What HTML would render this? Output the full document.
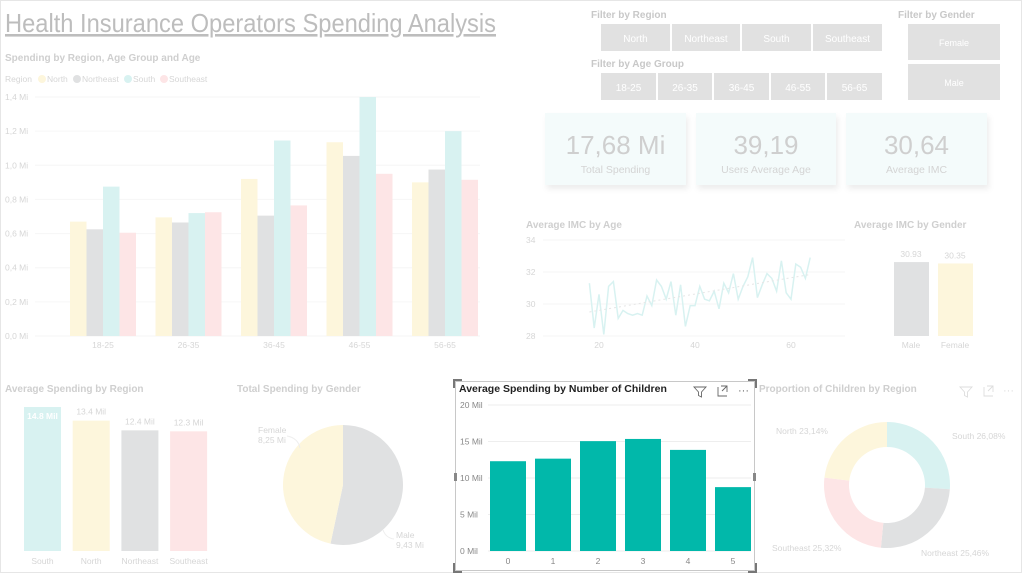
<!DOCTYPE html>
<html><head><meta charset="utf-8">
<style>
body{margin:0;background:#fff;font-family:"Liberation Sans",sans-serif;}
svg{display:block}
text{font-family:"Liberation Sans",sans-serif}
</style></head>
<body>
<svg id="s" width="1022" height="573" viewBox="0 0 1022 573">
<rect x="0.5" y="0.5" width="1021" height="572" fill="#fff" stroke="#e6e6e6"/>
<text x="5" y="32" font-size="26" fill="#bdbdbd" text-decoration="underline" textLength="491" lengthAdjust="spacingAndGlyphs">Health Insurance Operators Spending Analysis</text>
<g id="filters"></g>
<g id="kpis"></g>
<g id="c1"></g><g id="c2"></g><g id="c3"></g><g id="c4"></g><g id="c5"></g><g id="c6"></g><g id="c7"></g>
</svg>
<script>
const NS="http://www.w3.org/2000/svg";
function mk(p,tag,at,txt){const e=document.createElementNS(NS,tag);for(const k in at)e.setAttribute(k,at[k]);if(txt!=null)e.textContent=txt;p.appendChild(e);return e;}
const G=id=>document.getElementById(id);
const LT="#d6d6d6";
const COL={North:"#fdf6dc",Northeast:"#e0e1e2",South:"#d8f2f1",Southeast:"#fde5e6"};

// ---- data arrays ----
const regions=["North","Northeast","South","Southeast"];
const ageGroups=["18-25","26-35","36-45","46-55","56-65"];
const northVals=[0.67,0.695,0.92,1.135,0.9];
const northeastVals=[0.625,0.665,0.705,1.055,0.975];
const southVals=[0.875,0.72,1.145,1.4,1.2];
const southeastVals=[0.605,0.725,0.765,0.95,0.915];
const spendTicks=["0,0 Mi","0,2 Mi","0,4 Mi","0,6 Mi","0,8 Mi","1,0 Mi","1,2 Mi","1,4 Mi"];
const ages=[18,19,20,21,22,23,24,25,26,27,28,29,30,31,32,33,34,35,36,37,38,39,40,41,42,43,44,45,46,47,48,49,50,51,52,53,54,55,56,57,58,59,60,61,62,63,64];
const imcVals=[31.3,28.5,30.6,28.1,31.1,31.4,29.1,29.6,29.4,29.3,29.4,29.3,30.5,29.9,31.5,31.1,30.3,31.4,29.3,31.2,28.6,29.9,29.9,31.1,30.3,30.2,30.8,29.7,31.3,30.7,31.9,30.3,31.1,31.7,32.9,30.4,31.2,31.9,31.6,30.8,32.7,30.7,30.3,32.5,32.3,31.6,32.9];
const imcTicks=[28,30,32,34];
const ageTicks=[20,40,60];
const genders=["Male","Female"];
const genderImc=[30.93,30.35];
const regionOrder=["South","North","Northeast","Southeast"];
const regionAvg=[14.8,13.4,12.4,12.3];
const pieLabels=["Male","Female"];
const pieVals=[9.43,8.25];
const children=["0","1","2","3","4","5"];
const childSpend=[12.3,12.65,15.05,15.35,13.85,8.75];
const childTicks=[0,5,10,15,20];
const donutLabels=["South","Northeast","Southeast","North"];
const donutVals=[26.08,25.46,25.32,23.14];

// ---- filters ----
(function(){
const g=G("filters");
mk(g,"text",{x:591,y:18,"font-size":10,fill:"#c8c8c8","font-weight":"bold",},"Filter by Region");
mk(g,"text",{x:591,y:67,"font-size":10,fill:"#c8c8c8","font-weight":"bold",},"Filter by Age Group");
mk(g,"text",{x:898,y:18,"font-size":10,fill:"#c8c8c8","font-weight":"bold",},"Filter by Gender");
const rb=[[601,670,"North"],[672,740,"Northeast"],[742,811,"South"],[813,882,"Southeast"]];
rb.forEach(b=>{const r=mk(g,"rect",{x:b[0],y:24,width:b[1]-b[0],height:27,fill:"#e1e1e1"});

mk(g,"text",{x:(b[0]+b[1])/2,y:42,"font-size":10,fill:"#fff","text-anchor":"middle"},b[2]);});
const ab=[[601,656],[658,712],[714,769],[771,825],[827,882]];
ab.forEach((b,i)=>{const r=mk(g,"rect",{x:b[0],y:73,width:b[1]-b[0],height:27,fill:"#e1e1e1"});

mk(g,"text",{x:(b[0]+b[1])/2,y:91,"font-size":10,fill:"#fff","text-anchor":"middle"},ageGroups[i]);});
[[24,60,"Female"],[64,100,"Male"]].forEach(b=>{const r=mk(g,"rect",{x:908,y:b[0],width:92,height:b[1]-b[0],fill:"#e1e1e1"});

mk(g,"text",{x:954,y:(b[0]+b[1])/2+4,"font-size":9,fill:"#fff","text-anchor":"middle"},b[2]);});
})();

// ---- KPIs ----
(function(){
const g=G("kpis");
mk(g,"defs",{}).innerHTML='<filter id="sh" x="-10%" y="-10%" width="130%" height="140%"><feDropShadow dx="2" dy="4" stdDeviation="3" flood-color="#000" flood-opacity="0.07"/></filter>';
[[545,686,"17,68 Mi","Total Spending"],[696,836,"39,19","Users Average Age"],[846,987,"30,64","Average IMC"]].forEach(k=>{
const r=mk(g,"rect",{x:k[0],y:113,width:k[1]-k[0],height:72,fill:"#f4fbfb",filter:"url(#sh)"});

mk(g,"text",{x:(k[0]+k[1])/2,y:154,"font-size":26,fill:"#cfcfcf","text-anchor":"middle"},k[2]);
mk(g,"text",{x:(k[0]+k[1])/2,y:173,"font-size":10.5,fill:"#d4d4d4","text-anchor":"middle"},k[3]);});
})();

// ---- Chart 1: grouped bars ----
(function(){
const g=G("c1");
mk(g,"text",{x:5,y:61,"font-size":10,"font-weight":"bold",fill:"#cfcfcf",},"Spending by Region, Age Group and Age");
mk(g,"text",{x:5,y:82,"font-size":8.5,fill:LT},"Region");
const lxs=[38,73,124,160];
regions.forEach((r,i)=>{const lx=lxs[i];const c=mk(g,"circle",{cx:lx+4,cy:79,r:4,fill:COL[r]});
mk(g,"text",{x:lx+9,y:82,"font-size":8.5,fill:LT},r);});
const y=v=>336-v/1.4*239, x0=70, gs=85.5, bw=16.5;
spendTicks.forEach((t,i)=>{const yy=y(i*0.2);mk(g,"line",{x1:35,x2:480,y1:yy,y2:yy,stroke:"#f6f6f6"});mk(g,"text",{x:5,y:yy+3,"font-size":8.5,fill:LT},t);});
const series=[northVals,northeastVals,southVals,southeastVals];
ageGroups.forEach((a,i)=>{series.forEach((s,j)=>{const b=mk(g,"rect",{x:x0+i*gs+j*bw,y:y(s[i]),width:bw,height:336-y(s[i]),fill:COL[regions[j]]});
});
mk(g,"text",{x:x0+i*gs+2*bw,y:348,"font-size":8.5,fill:LT,"text-anchor":"middle"},a);});
})();

// ---- Chart 2: line ----
(function(){
const g=G("c2");
mk(g,"text",{x:526,y:228,"font-size":10,"font-weight":"bold",fill:"#cfcfcf",},"Average IMC by Age");
const x=a=>599+(a-20)*4.8, y=v=>336-(v-28)*16;
imcTicks.forEach(t=>{mk(g,"line",{x1:543,x2:845,y1:y(t),y2:y(t),stroke:"#f6f6f6"});mk(g,"text",{x:526,y:y(t)+3,"font-size":8.5,fill:LT},t);});
ageTicks.forEach(t=>mk(g,"text",{x:x(t),y:348,"font-size":8.5,fill:LT,"text-anchor":"middle"},t));
const l=mk(g,"polyline",{points:ages.map((a,i)=>x(a)+","+y(imcVals[i])).join(" "),fill:"none",stroke:"#d8f2f1","stroke-width":1.5});

const n=ages.length;let sx=0,sy=0,sxx=0,sxy=0;ages.forEach((a,i)=>{sx+=a;sy+=imcVals[i];sxx+=a*a;sxy+=a*imcVals[i];});
const m=(n*sxy-sx*sy)/(n*sxx-sx*sx),b=(sy-m*sx)/n;
mk(g,"line",{x1:x(ages[0]),y1:y(m*ages[0]+b),x2:x(ages[n-1]),y2:y(m*ages[n-1]+b),stroke:"#e6e6e6","stroke-dasharray":"2,3"});
})();

// ---- Chart 3: gender IMC ----
(function(){
const g=G("c3");
mk(g,"text",{x:854,y:228,"font-size":10,"font-weight":"bold",fill:"#cfcfcf",},"Average IMC by Gender");
const y=v=>336-v*2.39;
genders.forEach((gn,i)=>{const xx=894+i*44;const b=mk(g,"rect",{x:xx,y:y(genderImc[i]),width:35,height:336-y(genderImc[i]),fill:i?COL.North:COL.Northeast});

mk(g,"text",{x:xx+17,y:y(genderImc[i])-5,"font-size":8.5,fill:LT,"text-anchor":"middle"},genderImc[i].toFixed(2));
mk(g,"text",{x:xx+17,y:348,"font-size":8.5,fill:LT,"text-anchor":"middle"},gn);});
})();

// ---- Chart 4: avg by region ----
(function(){
const g=G("c4");
mk(g,"text",{x:5,y:392,"font-size":10,"font-weight":"bold",fill:"#cfcfcf",},"Average Spending by Region");
const y=v=>551-v*9.73;
regionOrder.forEach((r,i)=>{const xx=24+i*48.7;const b=mk(g,"rect",{x:xx,y:y(regionAvg[i]),width:37,height:551-y(regionAvg[i]),fill:COL[r]});

const inside=i===0;
mk(g,"text",{x:xx+18.5,y:inside?y(regionAvg[i])+12:y(regionAvg[i])-6,"font-size":8.5,fill:inside?"#fff":LT,"font-weight":inside?"bold":"normal","text-anchor":"middle"},regionAvg[i].toFixed(1)+" Mil");
mk(g,"text",{x:xx+18.5,y:564,"font-size":8.5,fill:LT,"text-anchor":"middle"},r);});
})();

// ---- Chart 5: pie ----
(function(){
const g=G("c5");
mk(g,"text",{x:237,y:392,"font-size":10,"font-weight":"bold",fill:"#cfcfcf",},"Total Spending by Gender");
const cx=343,cy=485,r=60,tot=pieVals.reduce((a,b)=>a+b,0);let a0=-Math.PI/2;
const cols=["#e0e1e2","#fdf6dc"];
pieVals.forEach((v,i)=>{const a1=a0+v/tot*2*Math.PI;const lg=(a1-a0)>Math.PI?1:0;
const p=mk(g,"path",{d:`M${cx},${cy}L${cx+r*Math.cos(a0)},${cy+r*Math.sin(a0)}A${r},${r} 0 ${lg} 1 ${cx+r*Math.cos(a1)},${cy+r*Math.sin(a1)}Z`,fill:cols[i]});
a0=a1;});
mk(g,"text",{x:258,y:433,"font-size":8.5,fill:LT},"Female");mk(g,"text",{x:258,y:443,"font-size":8.5,fill:LT},pieVals[1].toFixed(2).replace(".",",")+" Mi");
mk(g,"text",{x:396,y:538,"font-size":8.5,fill:LT},"Male");mk(g,"text",{x:396,y:548,"font-size":8.5,fill:LT},pieVals[0].toFixed(2).replace(".",",")+" Mi");
mk(g,"path",{d:"M287,436 Q298,438 300,448",fill:"none",stroke:"#eee"});mk(g,"path",{d:"M383,530 Q386,538 394,539",fill:"none",stroke:"#eee"});
})();

// ---- Chart 6: selected children chart ----
(function(){
const g=G("c6");
const box=mk(g,"rect",{x:455.5,y:381.5,width:299,height:189,fill:"#fff",stroke:"#c8c8c8"});

mk(g,"path",{d:"M454,388V380H462M748,380H756V388M454,563V572H462M748,572H756V563",fill:"none",stroke:"#777","stroke-width":2});
mk(g,"rect",{x:454,y:473,width:3,height:8,fill:"#888"});mk(g,"rect",{x:753,y:473,width:3,height:8,fill:"#888"});
mk(g,"text",{x:459,y:392,"font-size":10.5,"font-weight":"bold",fill:"#222",},"Average Spending by Number of Children");
const ic=mk(g,"path",{d:"M694,387h12l-4.5,5v5l-3,-1.5v-3.5z",fill:"none",stroke:"#666","stroke-width":0.9});
const fo=mk(g,"path",{d:"M718,387v9h9M721,386h6v6M727,386l-5,5",fill:"none",stroke:"#666","stroke-width":0.9});
const mo=mk(g,"text",{x:738,y:394,"font-size":11,fill:"#666"},"···");
const y=v=>551-v*7.3;
childTicks.forEach(t=>{mk(g,"line",{x1:488,x2:751,y1:y(t),y2:y(t),stroke:"#eeeeee"});mk(g,"text",{x:460,y:y(t)+3,"font-size":8.5,fill:"#888"},t+" Mil");});
children.forEach((c,i)=>{const xx=490+i*45;const b=mk(g,"rect",{x:xx,y:y(childSpend[i]),width:36,height:551-y(childSpend[i]),fill:"#01b8aa"});

mk(g,"text",{x:xx+18,y:564,"font-size":8.5,fill:"#888","text-anchor":"middle"},c);});
})();

// ---- Chart 7: donut ----
(function(){
const g=G("c7");
mk(g,"text",{x:759,y:392,"font-size":10,"font-weight":"bold",fill:"#cfcfcf",},"Proportion of Children by Region");
mk(g,"path",{d:"M960,387h12l-4.5,5v5l-3,-1.5v-3.5z",fill:"none",stroke:"#ddd","stroke-width":0.9});
mk(g,"path",{d:"M984,387v9h9M987,386h6v6M993,386l-5,5",fill:"none",stroke:"#ddd","stroke-width":0.9});
mk(g,"text",{x:1003,y:394,"font-size":11,fill:"#ddd"},"···");
const cx=887,cy=485,R=63,r=38,tot=donutVals.reduce((a,b)=>a+b,0);let a0=-Math.PI/2;
donutVals.forEach((v,i)=>{const a1=a0+v/tot*2*Math.PI;const P=(rad,a)=>(cx+rad*Math.cos(a))+","+(cy+rad*Math.sin(a));
const p=mk(g,"path",{d:`M${P(R,a0)}A${R},${R} 0 0 1 ${P(R,a1)}L${P(r,a1)}A${r},${r} 0 0 0 ${P(r,a0)}Z`,fill:COL[donutLabels[i]]});
a0=a1;});
const lab=(l,x,y,anc)=>mk(g,"text",{x:x,y:y,"font-size":8.5,fill:LT,"text-anchor":anc},l);
lab(donutLabels[0]+" "+donutVals[0].toFixed(2).replace(".",",")+"%",952,439,"start");
lab(donutLabels[1]+" "+donutVals[1].toFixed(2).replace(".",",")+"%",921,556,"start");
lab(donutLabels[2]+" "+donutVals[2].toFixed(2).replace(".",",")+"%",772,551,"start");
lab(donutLabels[3]+" "+donutVals[3].toFixed(2).replace(".",",")+"%",776,434,"start");
})();
</script>
</body></html>
